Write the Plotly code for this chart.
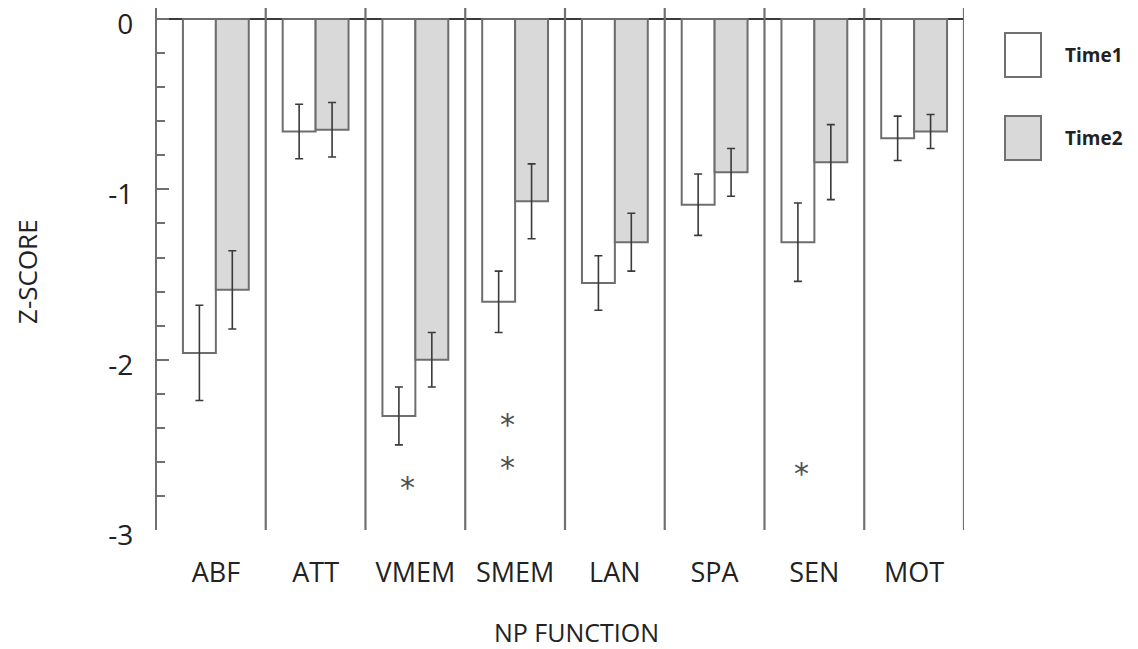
import plotly.graph_objects as go

# ---------------- data ----------------
categories = ["ABF", "ATT", "VMEM", "SMEM", "LAN", "SPA", "SEN", "MOT"]
time1 = [-1.96, -0.66, -2.33, -1.66, -1.55, -1.09, -1.31, -0.70]
time2 = [-1.59, -0.65, -2.00, -1.07, -1.31, -0.90, -0.84, -0.66]
err1 = [0.28, 0.16, 0.17, 0.18, 0.16, 0.18, 0.23, 0.13]
err2 = [0.23, 0.16, 0.16, 0.22, 0.17, 0.14, 0.22, 0.10]
series_names = ["Time1", "Time2"]
ytick_vals = [0, -1, -2, -3]
ytick_text = ["0", "-1", "-2", "-3"]
# significance markers: (category index, y value, x offset in category units)
star_cat = [2, 3, 3, 6]
star_y = [-2.71, -2.34, -2.59, -2.63]
star_dx = [-0.08, -0.08, -0.08, -0.13]

# ---------------- geometry (screen pixels) ----------------
W, H = 1138, 649
L, R, T, B = 157, 964, 8, 530


def pxx(px):
    return (px - L) / (R - L)


def pyy(py):
    return (B - py) / (B - T)


FONT = "Open Sans"
EDGE = "#6e6e6e"
TXT = "#222222"

fig = go.Figure()
fig.add_trace(go.Bar(
    x=list(range(len(categories))), y=time1, name=series_names[0],
    marker=dict(color="white", line=dict(color=EDGE, width=2)),
    error_y=dict(type="data", array=err1, visible=True, color="#3a3a3a",
                 thickness=1.6, width=4),
))
fig.add_trace(go.Bar(
    x=list(range(len(categories))), y=time2, name=series_names[1],
    marker=dict(color="#d9d9d9", line=dict(color=EDGE, width=2)),
    error_y=dict(type="data", array=err2, visible=True, color="#3a3a3a",
                 thickness=1.6, width=4),
))

shapes = []
for i in range(len(categories)):
    shapes.append(dict(type="line", xref="x", yref="paper", x0=i + 0.5, x1=i + 0.5,
                       y0=0, y1=1, line=dict(color="#707070", width=2.2)))
legend_fill = ["white", "#d9d9d9"]
legend_top = [33, 116]
for fill, top in zip(legend_fill, legend_top):
    shapes.append(dict(type="rect", xref="paper", yref="paper",
                       x0=pxx(1005), x1=pxx(1041), y0=pyy(top), y1=pyy(top + 44),
                       fillcolor=fill, line=dict(color="#707070", width=2)))

annotations = []
for name, top in zip(series_names, legend_top):
    annotations.append(dict(xref="paper", yref="paper", x=pxx(1063), y=pyy(top + 22),
                            xanchor="left", yanchor="middle", showarrow=False,
                            text="<b>%s</b>" % name,
                            font=dict(family=FONT, size=19, color=TXT)))
for c, yv, dx in zip(star_cat, star_y, star_dx):
    annotations.append(dict(xref="x", yref="y", x=c + dx, y=yv, showarrow=False,
                            xanchor="center", yanchor="middle", yshift=-7,
                            text="*", font=dict(family="DejaVu Sans", size=30, color="#505050")))
annotations.append(dict(xref="paper", yref="paper", x=pxx(576), y=pyy(632),
                        xanchor="center", yanchor="middle", showarrow=False,
                        text="NP FUNCTION", font=dict(family=FONT, size=25, color=TXT)))
annotations.append(dict(xref="paper", yref="paper", x=pxx(27), y=pyy(272),
                        xanchor="center", yanchor="middle", showarrow=False, textangle=-90,
                        text="Z-SCORE", font=dict(family=FONT, size=26, color=TXT)))

fig.update_layout(
    width=W, height=H,
    margin=dict(l=L, r=W - R, t=T, b=H - B, autoexpand=False),
    paper_bgcolor="white", plot_bgcolor="white",
    barmode="group", bargap=0.34, bargroupgap=0,
    showlegend=False,
    shapes=shapes, annotations=annotations,
    font=dict(family=FONT, color=TXT),
)
fig.update_xaxes(
    range=[-0.59, 7.5], tickmode="array", tickvals=list(range(len(categories))),
    ticktext=categories, showgrid=False, zeroline=False, showline=False, ticks="",
    tickfont=dict(family=FONT, size=27, color=TXT), ticklabelstandoff=24,
)
fig.update_yaxes(
    range=[-3, 0.065], tickmode="array", tickvals=ytick_vals, ticktext=ytick_text,
    showgrid=False, zeroline=True, zerolinecolor="#3a3a3a", zerolinewidth=1.6,
    showline=True, linecolor="#707070", linewidth=2.2,
    ticks="inside", ticklen=12, tickwidth=2, tickcolor="#707070",
    minor=dict(ticks="inside", ticklen=8, tickwidth=2, tickcolor="#707070",
               tickmode="array", tickvals=[v / 5 for v in range(-14, 0) if v % 5 != 0]),
    tickfont=dict(family=FONT, size=28, color=TXT), ticklabelstandoff=16,
    ticklabelshift=5, ticklabeloverflow="allow",
)

fig.write_html("out.html", config={"displayModeBar": False},
               post_script="document.body.style.margin='0';")
